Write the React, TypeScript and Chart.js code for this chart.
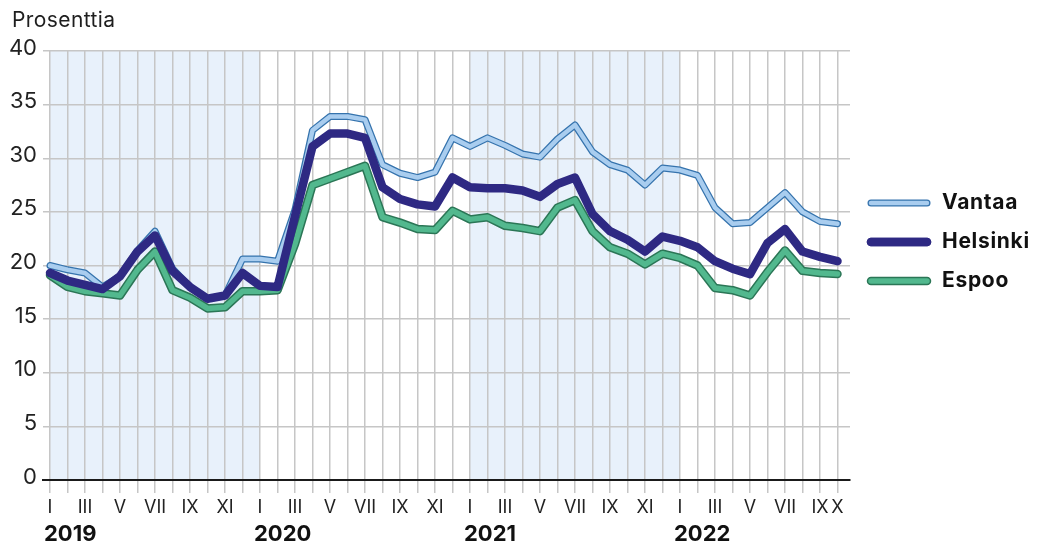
import React, { useEffect, useRef } from "react";
import { Chart, registerables } from "chart.js";

Chart.register(...registerables);

// Month tick labels, Jan 2019 .. Oct 2022
const monthLabels = [
  "I", "", "III", "", "V", "", "VII", "", "IX", "", "XI", "",
  "I", "", "III", "", "V", "", "VII", "", "IX", "", "XI", "",
  "I", "", "III", "", "V", "", "VII", "", "IX", "", "XI", "",
  "I", "", "III", "", "V", "", "VII", "", "IX", "X",
];

const years = ["2019", "2020", "2021", "2022"];
const yearStartIndex = [0, 12, 24, 36];
const shadedRanges = [
  [0, 12],
  [24, 36],
];

const vantaa = [
  20.0, 19.6, 19.3, 18.0, 19.0, 21.4, 23.2, 19.7, 18.0, 16.9, 17.2, 20.6,
  20.6, 20.4, 25.2, 32.6, 33.9, 33.9, 33.6, 29.4, 28.6, 28.2, 28.7, 31.9,
  31.1, 31.9, 31.2, 30.4, 30.1, 31.8, 33.1, 30.6, 29.4, 28.9, 27.5, 29.1,
  28.9, 28.4, 25.4, 23.9, 24.0, 25.4, 26.8, 25.0, 24.1, 23.9,
];

const helsinki = [
  19.3, 18.6, 18.2, 17.8, 19.0, 21.3, 22.8, 19.5, 18.0, 16.9, 17.2, 19.3,
  18.1, 18.0, 24.6, 31.1, 32.3, 32.3, 31.9, 27.3, 26.2, 25.7, 25.5, 28.2,
  27.3, 27.2, 27.2, 27.0, 26.4, 27.6, 28.2, 24.8, 23.2, 22.4, 21.3, 22.7,
  22.3, 21.7, 20.4, 19.7, 19.2, 22.1, 23.4, 21.3, 20.8, 20.4,
];

const espoo = [
  19.1, 18.0, 17.6, 17.4, 17.2, 19.6, 21.3, 17.7, 17.0, 16.0, 16.1, 17.6,
  17.6, 17.7, 22.0, 27.5, 28.1, 28.7, 29.3, 24.5, 24.0, 23.4, 23.3, 25.1,
  24.3, 24.5, 23.7, 23.5, 23.2, 25.4, 26.1, 23.2, 21.7, 21.1, 20.1, 21.1,
  20.7, 20.0, 17.9, 17.7, 17.2, 19.4, 21.4, 19.5, 19.3, 19.2,
];

const seriesNames = ["Vantaa", "Helsinki", "Espoo"];

const FONT = "Inter, 'Noto Sans', sans-serif";

const styles = {
  Vantaa: { fill: "#a9cdef", outline: "#3573ad", inner: 4.5, outer: 7 },
  Helsinki: { fill: "#2e2983", outline: "#2e2983", inner: 8.5, outer: 8.5 },
  Espoo: { fill: "#52b88e", outline: "#2b7656", inner: 5.5, outer: 8.5 },
};

const toPoints = (arr: number[]) => arr.map((v, i) => ({ x: i, y: v }));

function lineDs(data: number[], color: string, width: number) {
  return {
    data: toPoints(data),
    borderColor: color,
    backgroundColor: color,
    borderWidth: width,
    pointRadius: 0,
    pointHoverRadius: 0,
    tension: 0,
    fill: false,
    borderJoinStyle: "round" as const,
    borderCapStyle: "round" as const,
  };
}

const decorPlugin = {
  id: "decor",
  beforeDraw(chart: any) {
    const { ctx, chartArea, scales } = chart;
    const x = scales.x;
    ctx.save();
    ctx.fillStyle = "#e8f1fb";
    shadedRanges.forEach(([a, b]) => {
      const xa = x.getPixelForValue(a);
      const xb = x.getPixelForValue(b);
      ctx.fillRect(xa, chartArea.top, xb - xa, chartArea.bottom - chartArea.top);
    });
    ctx.restore();
  },
  afterDraw(chart: any) {
    const { ctx, scales } = chart;
    const x = scales.x;
    ctx.save();
    // title
    ctx.fillStyle = "#1e1e1e";
    ctx.font = `21px ${FONT}`;
    ctx.textAlign = "left";
    ctx.textBaseline = "alphabetic";
    (ctx as any).letterSpacing = "0.4px";
    ctx.fillText("Prosenttia", 12, 27);
    (ctx as any).letterSpacing = "0px";
    // years
    ctx.font = `bold 22px ${FONT}`;
    ctx.fillStyle = "#111";
    years.forEach((yr, k) => {
      const px = x.getPixelForValue(yearStartIndex[k]);
      ctx.fillText(yr, px - 6, 541);
    });
    // legend
    const legendY = [203, 242, 281];
    seriesNames.forEach((name, k) => {
      const st = (styles as any)[name];
      const y = legendY[k];
      ctx.lineCap = "round";
      ctx.strokeStyle = st.outline;
      ctx.lineWidth = st.outer;
      ctx.beginPath();
      ctx.moveTo(871, y);
      ctx.lineTo(927, y);
      ctx.stroke();
      ctx.strokeStyle = st.fill;
      ctx.lineWidth = st.inner;
      ctx.beginPath();
      ctx.moveTo(871, y);
      ctx.lineTo(927, y);
      ctx.stroke();
      ctx.fillStyle = "#111";
      ctx.font = `bold 21px ${FONT}`;
      ctx.textBaseline = "middle";
      (ctx as any).letterSpacing = "0.7px";
      ctx.fillText(name, 942, y);
      (ctx as any).letterSpacing = "0px";
    });
    ctx.restore();
  },
};

export default function App() {
  const ref = useRef<HTMLCanvasElement | null>(null);

  useEffect(() => {
    if (!ref.current) return;
    const datasets = [
      lineDs(helsinki, styles.Helsinki.fill, styles.Helsinki.inner),
      lineDs(vantaa, styles.Vantaa.fill, styles.Vantaa.inner),
      lineDs(vantaa, styles.Vantaa.outline, styles.Vantaa.outer),
      lineDs(espoo, styles.Espoo.fill, styles.Espoo.inner),
      lineDs(espoo, styles.Espoo.outline, styles.Espoo.outer),
    ];
    const chart = new Chart(ref.current, {
      type: "line",
      data: { datasets },
      options: {
        animation: false,
        responsive: false,
        events: [],
        layout: { padding: { top: 51, right: 189, left: 0, bottom: 0 } },
        plugins: {
          legend: { display: false },
          tooltip: { enabled: false },
        },
        scales: {
          x: {
            type: "linear",
            min: -0.4,
            max: 45.714,
            afterBuildTicks: (s: any) => {
              s.ticks = monthLabels.map((_, i) => ({ value: i }));
            },
            afterFit: (s: any) => {
              s.height = 65;
            },
            ticks: {
              autoSkip: false,
              maxRotation: 0,
              minRotation: 0,
              padding: 4,
              color: "#222",
              font: { family: FONT, size: 18 },
              callback: (v: any) => monthLabels[v] ?? "",
            },
            grid: {
              color: "#c6c6c6",
              lineWidth: 1.5,
              tickLength: 13,
            },
            border: { display: true, color: "#1a1a1a", width: 2 },
          },
          y: {
            min: 0,
            max: 40,
            afterFit: (s: any) => {
              s.width = 43;
            },
            ticks: {
              stepSize: 5,
              padding: 6,
              labelOffset: -3,
              color: "#222",
              font: { family: FONT, size: 22 },
            },
            grid: {
              drawTicks: false,
              color: (c: any) => (c.tick && c.tick.value === 0 ? "#1a1a1a" : "#c6c6c6"),
              lineWidth: (c: any) => (c.tick && c.tick.value === 0 ? 2 : 1.5),
            },
            border: { display: false },
          },
        },
      },
      plugins: [decorPlugin],
    } as any);
    return () => chart.destroy();
  }, []);

  return (
    <div style={{ position: "fixed", left: 0, top: 0, width: 1039, height: 545, background: "#fff" }}>
      <canvas ref={ref} width={1039} height={545} style={{ width: 1039, height: 545 }} />
    </div>
  );
}
